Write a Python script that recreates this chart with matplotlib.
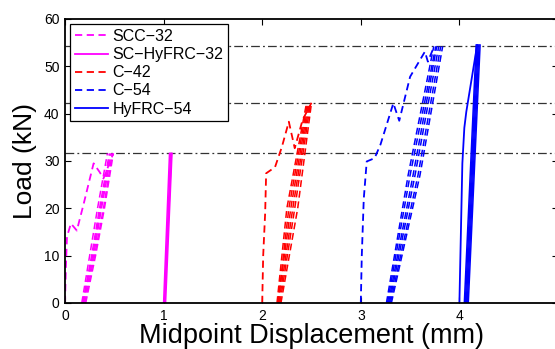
import matplotlib
matplotlib.use("Agg")
import matplotlib.pyplot as plt

plt.rcParams['font.family'] = ['Liberation Sans', 'DejaVu Sans']

# peak load levels (kN)
peak_loads = [31.6, 42.3, 54.2]

# SCC-32: first loading + reloading cycles (dashed)
scc32_first_x = [0.00, 0.01, 0.02, 0.06, 0.12, 0.19, 0.29, 0.35, 0.39, 0.49]
scc32_first_y = [0, 8, 14, 16.8, 15.3, 21, 29.5, 27.7, 26.3, 31.6]
scc32_cyc_y = [0, 10, 20, 31.6]
scc32_cyc_x = [
    [0.17, 0.25, 0.33, 0.43],
    [0.18, 0.27, 0.35, 0.45],
    [0.18, 0.28, 0.36, 0.46],
    [0.19, 0.29, 0.37, 0.47],
    [0.20, 0.30, 0.39, 0.48],
    [0.21, 0.31, 0.40, 0.49],
]

# SC-HyFRC-32 (solid)
schy32_cyc_y = [0, 31.6]
schy32_cyc_x = [
    [1.00, 1.06],
    [1.01, 1.07],
    [1.01, 1.08],
    [1.02, 1.085],
]

# C-42 (dashed)
c42_first_x = [2.00, 2.01, 2.03, 2.04, 2.13, 2.20, 2.27, 2.33, 2.41, 2.50]
c42_first_y = [0, 10, 19, 27.4, 28.7, 33, 38.3, 32.7, 38.7, 42.3]
c42_cyc_y = [0, 20, 42.3]
c42_cyc_x = [
    [2.15, 2.25, 2.45],
    [2.16, 2.27, 2.46],
    [2.16, 2.29, 2.47],
    [2.17, 2.31, 2.48],
    [2.18, 2.33, 2.49],
    [2.19, 2.36, 2.50],
]

# C-54 (dashed)
c54_first_x = [3.00, 3.01, 3.03, 3.06, 3.14, 3.20, 3.33, 3.39, 3.50, 3.65, 3.68, 3.73, 3.77]
c54_first_y = [0, 10, 22, 29.9, 30.6, 33.5, 42.2, 38.5, 47.8, 53.1, 51, 53.5, 54.2]
c54_cyc_y = [0, 27, 54.2]
c54_cyc_x = [
    [3.26, 3.48, 3.74],
    [3.27, 3.50, 3.76],
    [3.28, 3.53, 3.77],
    [3.29, 3.55, 3.79],
    [3.30, 3.58, 3.81],
    [3.31, 3.60, 3.83],
]

# HyFRC-54 (solid)
hy54_first_x = [4.00, 4.03, 4.05, 4.07, 4.18]
hy54_first_y = [0, 29.5, 37, 40.4, 54.5]
hy54_cyc_y = [0, 54.5]
hy54_cyc_x = [
    [4.05, 4.17],
    [4.06, 4.18],
    [4.07, 4.19],
    [4.08, 4.20],
    [4.09, 4.21],
]

labels = ['SCC\u221232', 'SC\u2212HyFRC\u221232', 'C\u221242', 'C\u221254', 'HyFRC\u221254']

fig = plt.figure(figsize=(5.55, 3.49), dpi=100)
ax = fig.add_axes([65 / 555, 46 / 349, 493 / 555, 284 / 349])

for p in peak_loads:
    ax.plot([0, 5], [p, p], color='#333333', lw=0.9, ls='-.', dashes=[7, 2.5, 1.5, 2.5])

dash = [4, 2.5]
lw = 1.3

def bundle(xs, y, color, dashed):
    h = None
    for i, x in enumerate(xs):
        if dashed:
            line, = ax.plot(x, y, color=color, lw=1.1, dashes=[4.5, 2.5])
        else:
            line, = ax.plot(x, y, color=color, lw=1.1)
        if i == 0:
            h = line
    return h

h1, = ax.plot(scc32_first_x, scc32_first_y, color='magenta', lw=lw, dashes=dash)
bundle(scc32_cyc_x, scc32_cyc_y, 'magenta', True)
h2 = bundle(schy32_cyc_x, schy32_cyc_y, 'magenta', False)
h3, = ax.plot(c42_first_x, c42_first_y, color='red', lw=lw, dashes=dash)
bundle(c42_cyc_x, c42_cyc_y, 'red', True)
h4, = ax.plot(c54_first_x, c54_first_y, color='blue', lw=lw, dashes=dash)
bundle(c54_cyc_x, c54_cyc_y, 'blue', True)
h5, = ax.plot(hy54_first_x, hy54_first_y, color='blue', lw=lw)
bundle(hy54_cyc_x, hy54_cyc_y, 'blue', False)

ax.set_xlim(0, 5)
ax.set_ylim(0, 60)
ax.set_xticks([0, 1, 2, 3, 4])
ax.set_yticks(range(0, 61, 10))
ax.tick_params(direction='in', length=4, width=0.8, top=True, right=True,
               labelsize=10, pad=4)
for s in ax.spines.values():
    s.set_linewidth(1.3)

ax.set_xlabel('Midpoint Displacement (mm)', fontsize=19.5, labelpad=0)
ax.set_ylabel('Load (kN)', fontsize=19, labelpad=5)

leg = ax.legend([h1, h2, h3, h4, h5], labels, loc='upper left',
                bbox_to_anchor=(0.010, 0.982), borderaxespad=0, fontsize=11.5,
                handlelength=2.1, handletextpad=0.25, labelspacing=0.2,
                borderpad=0.3, fancybox=False, framealpha=1)
leg.get_frame().set_edgecolor('black')
leg.get_frame().set_linewidth(0.9)
# legend handles drawn with the thinner style of the reference
for lh in leg.get_lines():
    lh.set_linewidth(1.3)

fig.savefig('out.png', dpi=100)
